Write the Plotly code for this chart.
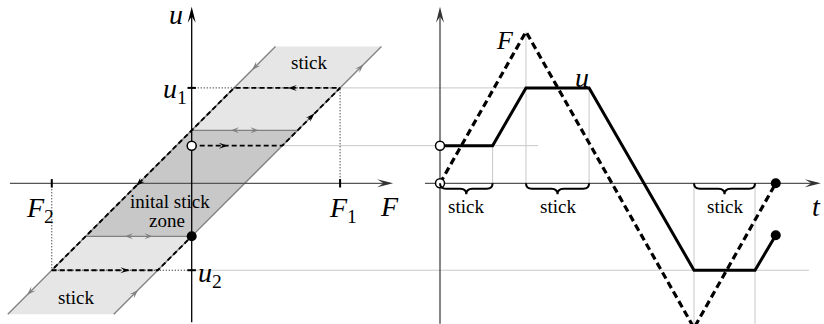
import plotly.graph_objects as go

# ---- left panel: stick band in the (F, u) plane ----
A = 1.0                      # half width of the stick band
F1, F2 = 2.8, -2.64
U1, U2 = F1 - A, F2 + A      # displacement at the turning points
U0 = 0.71                    # initial displacement (open circle)
BAND_U = [-2.47, 2.58]       # vertical extent of the light band
ZONE_U = [-A, A]             # initial stick zone
F_AXIS = [-3.43, 3.80]
U_AXIS = [-2.62, 3.33]

# dashed loading path: start -> F1 -> F2 -> end
path_F = [0, U0 + A, F1, U1 - A, F2, U2 + A, 0]
path_u = [U0, U0, U1, U1, U2, U2, -A]
path_arrow = [None, 0.35, 0.5, 0.45, 0.52, 0.69]

# ---- right panel: time histories ----
t_F = [0, 2.86, 8.45, 11.17]
F_t = [0, 2.86, -2.73, 0]
t_u = [0, 1.75, 2.86, 4.96, 8.45, 10.48, 11.17]
u_t = [0.71, 0.71, 1.80, 1.80, -1.64, -1.64, -0.98]
stick_t = [(0, 1.75), (2.86, 4.96), (8.45, 10.48)]
guide_t = [1.75, 2.86, 4.96, 8.45, 10.48]
guide_end = [0.71, 2.86, 1.80, -2.73, -2.65]
T_AXIS = [-0.5, 12.67]
V_AXIS = [-2.65, 3.33]

# ---- page geometry (pixels) ----
W, H = 824, 324
F0_PX, T0_PX, Y0_PX = 191.7, 440.0, 183.3
U_PX, T_PX = 53.0, 30.06

GRAY = '#808080'
GUIDE = '#c8c8c8'
SERIF = 'Liberation Serif'


def t_on_f(t):
    """t 坐标换算到左图 F 坐标 (跨图参考线用)"""
    return (T0_PX + t * T_PX - F0_PX) / U_PX


def head(x, y, dx, dy, xref='x', size=9, width=6, color='black'):
    sx = U_PX if xref == 'x' else T_PX
    px, py = dx * sx, dy * U_PX
    n = (px ** 2 + py ** 2) ** 0.5
    px, py = px / n, py / n
    qx, qy = -py, px
    pts = [(0, 0),
           (-size * px + width / 2 * qx, -size * py + width / 2 * qy),
           (-0.6 * size * px, -0.6 * size * py),
           (-size * px - width / 2 * qx, -size * py - width / 2 * qy)]
    path = 'M' + ' L'.join(f'{x + a / sx:.4f},{y + b / U_PX:.4f}' for a, b in pts) + ' Z'
    return dict(type='path', xref=xref, yref='y', path=path, fillcolor=color,
                line=dict(width=0), layer='above')


def mid_head(p0, p1, frac, xref='x', size=9, width=6, color='black'):
    dx, dy = p1[0] - p0[0], p1[1] - p0[1]
    sx = U_PX if xref == 'x' else T_PX
    n = ((dx * sx) ** 2 + (dy * U_PX) ** 2) ** 0.5
    x = p0[0] + frac * dx + dx * sx / n * size / 2 / sx
    y = p0[1] + frac * dy + dy * U_PX / n * size / 2 / U_PX
    return head(x, y, dx, dy, xref, size, width, color)


def brace(x0, x1, xref='x2'):
    q = 6 / T_PX
    ym, yt = -5.5 / U_PX, -11 / U_PX
    xm = (x0 + x1) / 2
    p = (f'M{x0},0 Q{x0},{ym} {x0 + q},{ym} L{xm - q},{ym} Q{xm},{ym} {xm},{yt} '
         f'Q{xm},{ym} {xm + q},{ym} L{x1 - q},{ym} Q{x1},{ym} {x1},0')
    return dict(type='path', xref=xref, yref='y', path=p, line=dict(color='black', width=2))


fig = go.Figure()
shapes = []


def line(x, y, color='black', width=1.3, dash='solid', xaxis='x'):
    fig.add_trace(go.Scatter(x=x, y=y, mode='lines', xaxis=xaxis, yaxis='y',
                             line=dict(color=color, width=width, dash=dash),
                             hoverinfo='skip'))


# ---- 左图: 填充区域 ----
bt, bb = BAND_U[1], BAND_U[0]
fig.add_trace(go.Scatter(x=[bb - A, bb + A, bt + A, bt - A], y=[bb, bb, bt, bt],
                         fill='toself', fillcolor='#e6e6e6', mode='none', hoverinfo='skip'))
zt, zb = ZONE_U[1], ZONE_U[0]
fig.add_trace(go.Scatter(x=[zb - A, zb + A, zt + A, zt - A], y=[zb, zb, zt, zt],
                         fill='toself', fillcolor='#c8c8c8', mode='none', hoverinfo='skip'))

# 跨图参考线
line([F1, t_on_f(2.86)], [U1, U1], GUIDE, 1)
line([U0 + A, t_on_f(3.27)], [U0, U0], GUIDE, 1)
line([0, t_on_f(12.27)], [U2, U2], GUIDE, 1)
for tg, ye in zip(guide_t, guide_end):
    line([tg, tg], [0, ye], GUIDE, 1, xaxis='x2')

# 带状区边界 (灰)
line([bb - A, bt - A], [bb, bt], GRAY, 1.3)
line([bb + A, bt + A], [bb, bt], GRAY, 1.3)
line([zt - A, zt + A], [zt, zt], GRAY, 1.3)
line([zb - A, zb + A], [zb, zb], GRAY, 1.3)

# 坐标轴
line([F_AXIS[0], F_AXIS[1] - 8 / U_PX], [0, 0], '#555', 1.3)
line([0, 0], [U_AXIS[0], U_AXIS[1] - 8 / U_PX], 'black', 1.3)
shapes.append(head(F_AXIS[1], 0, 1, 0, size=16, width=8, color='#333'))
shapes.append(head(0, U_AXIS[1], 0, 1, size=16, width=8))
line([T_AXIS[0], T_AXIS[1] - 8 / T_PX], [0, 0], '#555', 1.3, xaxis='x2')
line([0, 0], [V_AXIS[0], V_AXIS[1] - 8 / U_PX], '#444', 1.3, xaxis='x2')
shapes.append(head(T_AXIS[1], 0, 1, 0, 'x2', size=16, width=8, color='#333'))
shapes.append(head(0, V_AXIS[1], 0, 1, 'x2', size=16, width=8, color='#333'))

# 点线
line([0, F1], [U1, U1], 'black', 1, '1px,2px')
line([F1, F1], [0, U1], 'black', 1, '1px,2px')
line([F2, F2], [0, U2], 'black', 1, '1px,2px')
line([F2, 0], [U2, U2], 'black', 1, '1px,2px')

# 刻度
fig.add_trace(go.Scatter(x=[F1, F2], y=[0, 0], mode='markers', hoverinfo='skip',
                         marker=dict(symbol='line-ns', size=6, line=dict(width=2, color='black'))))
fig.add_trace(go.Scatter(x=[0, 0], y=[U1, U2], mode='markers', hoverinfo='skip',
                         marker=dict(symbol='line-ew', size=6, line=dict(width=2, color='black'))))

# 加载路径 (虚线) 与箭头
line(path_F, path_u, 'black', 1.9, '5px,3px')
for i, fr in enumerate(path_arrow):
    if fr is not None:
        shapes.append(mid_head((path_F[i - 1], path_u[i - 1]), (path_F[i], path_u[i]), fr))

# 带边界外侧的灰色箭头
shapes.append(mid_head((bt - A, bt), (U1 - A, U1), 0.49, color=GRAY))
shapes.append(mid_head((F1, U1), (bt + A, bt), 0.49, color=GRAY))
shapes.append(mid_head((F2, U2), (bb - A, bb), 0.49, color=GRAY))
shapes.append(mid_head((bb + A, bb), (U2 + A, U2), 0.48, color=GRAY))
# 初始粘滞区的双向箭头
for zu, zc in ((zt, zt), (zb, zb)):
    shapes.append(head(zc + 0.26, zu, 1, 0, size=8, width=6, color=GRAY))
    shapes.append(head(zc - 0.26, zu, -1, 0, size=8, width=6, color=GRAY))

fig.add_trace(go.Scatter(x=[0], y=[U0], mode='markers', hoverinfo='skip',
                         marker=dict(size=9, color='white', line=dict(width=1.5, color='black'))))
fig.add_trace(go.Scatter(x=[0], y=[-A], mode='markers', hoverinfo='skip',
                         marker=dict(size=10, color='black')))

# ---- 右图: F(t), u(t) ----
line(t_F, F_t, 'black', 3.2, '7px,4px', xaxis='x2')
line(t_u, u_t, 'black', 3, xaxis='x2')
fig.add_trace(go.Scatter(x=[0, 0], y=[u_t[0], F_t[0]], mode='markers', xaxis='x2',
                         hoverinfo='skip',
                         marker=dict(size=9, color='white', line=dict(width=1.5, color='black'))))
fig.add_trace(go.Scatter(x=[t_F[-1], t_u[-1]], y=[F_t[-1], u_t[-1]], mode='markers',
                         xaxis='x2', hoverinfo='skip', marker=dict(size=10, color='black')))
for a0, a1 in stick_t:
    shapes.append(brace(a0, a1))

# ---- 文字 ----
def label(x, y, text, size, xref='x', xanchor='center'):
    fig.add_annotation(x=x, y=y, xref=xref, yref='y', text=text, showarrow=False,
                       xanchor=xanchor, yanchor='middle',
                       font=dict(family=SERIF, size=size, color='black'))


label(-0.30, 3.18, '<i>u</i>', 28)
label(-0.05, U1 - 0.05, '<i>u</i><sub>1</sub>', 28, xanchor='right')
label(0.08, U2 - 0.08, '<i>u</i><sub>2</sub>', 28, xanchor='left')
label(F2 - 0.22, -0.5, '<i>F</i><sub>2</sub>', 28)
label(F1 + 0.06, -0.5, '<i>F</i><sub>1</sub>', 28)
label(3.74, -0.43, '<i>F</i>', 28)
label(2.22, 2.27, 'stick', 19)
label(-2.18, -2.16, 'stick', 19)
label(-0.41, -0.35, 'inital stick', 19)
label(-0.46, -0.71, 'zone', 19)
label(2.16, 2.70, '<i>F</i>', 26, xref='x2')
label(4.72, 2.0, '<i>u</i>', 28, xref='x2')
label(12.54, -0.43, '<i>t</i>', 28, xref='x2')
for a0, a1 in stick_t:
    label((a0 + a1) / 2, -0.43, 'stick', 19, xref='x2')

fig.update_layout(
    width=W, height=H,
    margin=dict(l=0, r=0, t=0, b=0),
    paper_bgcolor='white', plot_bgcolor='white',
    showlegend=False,
    shapes=shapes,
    xaxis=dict(visible=False, range=[-F0_PX / U_PX, (W - F0_PX) / U_PX], domain=[0, 1]),
    xaxis2=dict(visible=False, range=[-T0_PX / T_PX, (W - T0_PX) / T_PX],
                domain=[0, 1], overlaying='x', anchor='y'),
    yaxis=dict(visible=False, range=[-(H - Y0_PX) / U_PX, Y0_PX / U_PX]),
)

# 页面默认 8px 边距会让图整体偏移, 去掉; 不显示工具栏
fig.write_html("out.html", config={'displayModeBar': False},
               post_script="document.body.style.margin='0';")
